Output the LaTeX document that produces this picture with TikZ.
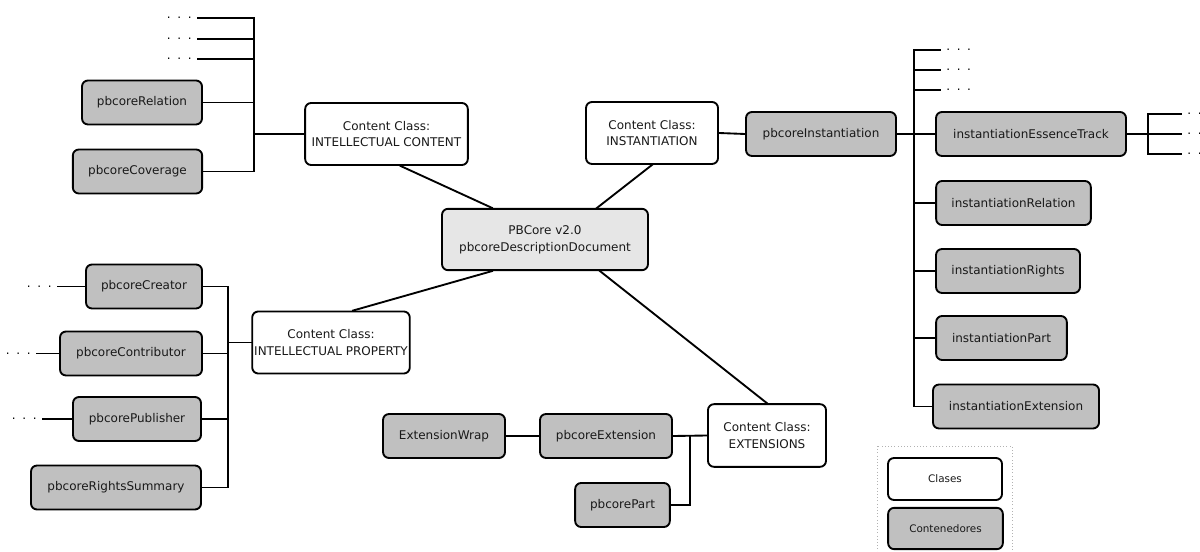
\documentclass[tikz,border=0pt]{standalone}
\usepackage{fontspec}
\setmainfont{DejaVu Sans}
\usetikzlibrary{calc}
\definecolor{contgray}{HTML}{C0C0C0}
\definecolor{rootgray}{HTML}{E6E6E6}
\newcommand{\puntos}{.\hskip5pt.\hskip5pt.}
\tikzset{
  box/.style={draw, line width=1.4pt, rounded corners=4.5pt, align=center,
    minimum height=33pt, inner sep=1.5pt, text=black!90,
    font=\fontsize{9}{12.5}\selectfont},
  clase/.style={box, fill=white, minimum height=46.5pt},
  cont/.style={box, fill=contgray},
  more/.style={inner sep=4.5pt, text=black, font=\fontsize{9}{12.5}\selectfont},
  link/.style={line width=1.4pt, line cap=rect}
}
\begin{document}
\begin{tikzpicture}[x=0.75pt, y=-0.75pt]
  \useasboundingbox (0,0) rectangle (1200,552);
  % root and content classes
  \node[box, fill=rootgray, minimum width=154.5pt, minimum height=46pt] (pb) at (545,239.5) {PBCore v2.0\\pbcoreDescriptionDocument};
  \node[clase, minimum width=122pt] (ic) at (386.5,134) {Content Class:\\INTELLECTUAL CONTENT};
  \node[clase, minimum width=99pt] (in) at (652,133) {Content Class:\\INSTANTIATION};
  \node[clase, minimum width=117pt] (ip) at (331,342.5) {Content Class:\\INTELLECTUAL PROPERTY};
  \node[clase, minimum width=88.5pt, minimum height=47pt] (ex) at (767,435.5) {Content Class:\\EXTENSIONS};
  \draw[link] ($(ic.south)+(14,0)$) -- ($(pb.north)+(-53,0)$);
  \draw[link] (in.south) -- ($(pb.north)+(52,0)$);
  \draw[link] ($(pb.south)+(-53,0)$) -- ($(ip.north)+(22,0)$);
  \draw[link] ($(pb.south)+(55,0)$) -- (ex.north);
  % intellectual content
  \node[cont, minimum width=90pt] (rel) at (142,102.5) {pbcoreRelation};
  \node[cont, minimum width=97pt] (cov) at (137.5,171.5) {pbcoreCoverage};
  \node[more, anchor=east] (m1) at (198,18) {\puntos};
  \node[more, anchor=east] (m2) at (198,39) {\puntos};
  \node[more, anchor=east] (m3) at (198,59) {\puntos};
  \coordinate (icbus) at (254,134);
  \draw[link] (ic.west) -- (icbus);
  \draw[link] (m1.east -| icbus) -- (cov.east -| icbus);
  \foreach \n in {m1,m2,m3,rel,cov}
    \draw[link] (\n.east) -- (\n.east -| icbus);
  % intellectual property
  \node[cont, minimum width=87pt] (cre) at (144,286.5) {pbcoreCreator};
  \node[cont, minimum width=106.5pt] (con) at (131,353.5) {pbcoreContributor};
  \node[cont, minimum width=96pt] (pub) at (137,419) {pbcorePublisher};
  \node[cont, minimum width=127.5pt] (rs) at (116,487.5) {pbcoreRightsSummary};
  \node[more, anchor=east] (m4) at (58,286.5) {\puntos};
  \node[more, anchor=east] (m5) at (37,353.5) {\puntos};
  \node[more, anchor=east] (m6) at (43,419) {\puntos};
  \coordinate (ipbus) at (228,342.5);
  \draw[link] (ip.west) -- (ipbus);
  \draw[link] (cre.east -| ipbus) -- (rs.east -| ipbus);
  \foreach \n in {cre,con,pub,rs}
    \draw[link] (\n.east) -- (\n.east -| ipbus);
  \draw[link] (m4.east) -- (cre.west);
  \draw[link] (m5.east) -- (con.west);
  \draw[link] (m6.east) -- (pub.west);
  % instantiation
  \node[cont, minimum width=112.5pt] (pi) at (821,134) {pbcoreInstantiation};
  \node[cont, minimum width=142.5pt] (et) at (1031,134) {instantiationEssenceTrack};
  \node[cont, minimum width=116pt] (ir) at (1013.5,203) {instantiationRelation};
  \node[cont, minimum width=108pt] (irt) at (1008,271) {instantiationRights};
  \node[cont, minimum width=98pt] (ipt) at (1001.5,338) {instantiationPart};
  \node[cont, minimum width=124.5pt] (iex) at (1016,406.5) {instantiationExtension};
  \node[more, anchor=west] (m7) at (940,50) {\puntos};
  \node[more, anchor=west] (m8) at (940,70) {\puntos};
  \node[more, anchor=west] (m9) at (940,90) {\puntos};
  \coordinate (inbus) at (914,134);
  \draw[link] (in.east) -- (pi.west);
  \draw[link] (pi.east) -- (et.west);
  \draw[link] (m7.west -| inbus) -- (iex.west -| inbus);
  \foreach \n in {m7,m8,m9,ir,irt,ipt,iex}
    \draw[link] (\n.west -| inbus) -- (\n.west);
  \node[more, anchor=west] (m10) at (1181,114) {\puntos};
  \node[more, anchor=west] (m11) at (1181,134) {\puntos};
  \node[more, anchor=west] (m12) at (1181,154) {\puntos};
  \coordinate (etbus) at (1148,134);
  \draw[link] (et.east) -- (etbus);
  \draw[link] (m10.west -| etbus) -- (m12.west -| etbus);
  \foreach \n in {m10,m11,m12}
    \draw[link] (\n.west -| etbus) -- (\n.west);
  % extensions
  \node[cont, minimum width=99pt] (pe) at (606,436) {pbcoreExtension};
  \node[cont, minimum width=91.5pt] (ew) at (444,436) {ExtensionWrap};
  \node[cont, minimum width=71pt] (pp) at (622.5,505) {pbcorePart};
  \coordinate (exbus) at (690,436);
  \draw[link] (ew.east) -- (pe.west);
  \draw[link] (pe.east) -- (ex.west);
  \draw[link] (exbus) -- (pp.east -| exbus) -- (pp.east);
  % legend
  \draw[gray!60, dotted] (877,446) rectangle (1012,560);
  \node[clase, minimum width=85.5pt, minimum height=31.5pt, font=\fontsize{7.8}{9}\selectfont] (lc) at (945,479) {Clases};
  \node[cont, minimum width=86pt, minimum height=31pt, font=\fontsize{7.8}{9}\selectfont] (lk) at (945.5,528.5) {Contenedores};
\end{tikzpicture}
\end{document}
